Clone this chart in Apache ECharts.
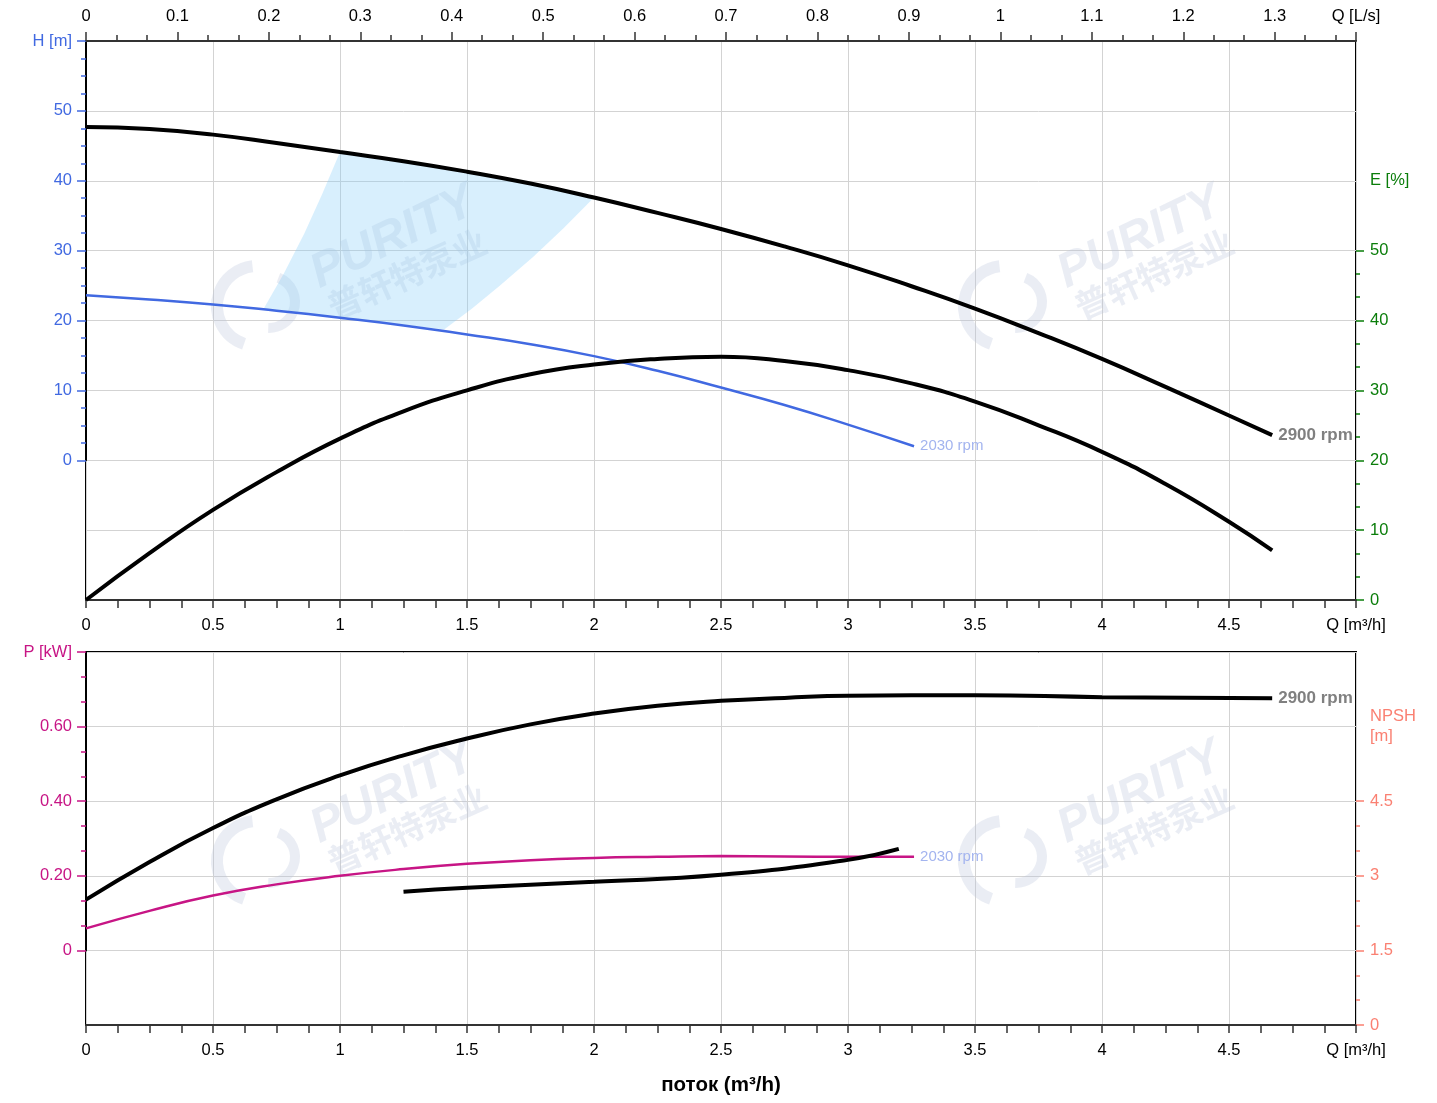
<!DOCTYPE html>
<html>
<head>
<meta charset="utf-8">
<script src="https://cdn.jsdelivr.net/npm/echarts@6/dist/echarts.min.js"></script>
<style>
html,body{margin:0;padding:0;background:#fff;}
#chart{width:1437px;height:1103px;}
</style>
</head>
<body>
<div id="chart"></div>
<script>
// ---- data ----
const Q_H2900 = [0, 0.25, 0.5, 0.75, 1.0, 1.25, 1.5, 1.75, 2.0, 2.25, 2.5, 2.75, 3.0, 3.25, 3.5, 3.75, 4.0, 4.25, 4.5, 4.67];
const H_2900  = [47.7, 47.4, 46.6, 45.4, 44.1, 42.8, 41.3, 39.6, 37.6, 35.4, 33.1, 30.6, 27.9, 24.9, 21.7, 18.2, 14.5, 10.5, 6.4, 3.6];
const Q_H2030 = [0, 0.25, 0.5, 0.75, 1.0, 1.25, 1.5, 1.75, 2.0, 2.25, 2.5, 2.75, 3.0, 3.26];
const H_2030  = [23.6, 23.0, 22.3, 21.4, 20.4, 19.3, 18.0, 16.6, 14.9, 12.8, 10.4, 7.9, 5.1, 2.0];
const Q_E     = [0, 0.25, 0.5, 0.75, 1.0, 1.25, 1.5, 1.75, 2.0, 2.25, 2.5, 2.75, 3.0, 3.25, 3.5, 3.75, 4.0, 4.25, 4.5, 4.67];
const E_2900  = [0, 6.7, 12.9, 18.3, 23.1, 27.0, 30.0, 32.3, 33.7, 34.5, 34.8, 34.2, 32.9, 31.0, 28.4, 25.0, 21.2, 16.6, 11.2, 7.1];
const Q_P2900 = [0, 0.25, 0.5, 0.75, 1.0, 1.25, 1.5, 1.75, 2.0, 2.25, 2.5, 2.75, 3.0, 3.5, 4.0, 4.67];
const P_2900  = [0.136, 0.237, 0.328, 0.405, 0.469, 0.523, 0.568, 0.606, 0.635, 0.656, 0.669, 0.677, 0.683, 0.684, 0.679, 0.676];
const Q_P2030 = [0, 0.25, 0.5, 0.75, 1.0, 1.25, 1.5, 1.75, 2.0, 2.25, 2.5, 2.75, 3.0, 3.26];
const P_2030  = [0.059, 0.106, 0.147, 0.177, 0.200, 0.218, 0.232, 0.242, 0.248, 0.251, 0.253, 0.252, 0.251, 0.251];
const Q_NPSH  = [1.25, 1.5, 2.0, 2.5, 3.0, 3.2];
const NPSH    = [2.68, 2.76, 2.88, 3.02, 3.32, 3.54];
// operating range (shaded area) outline
const AREA_Q = [0.70, 0.78, 0.86, 0.93, 1.0, 1.25, 1.5, 1.75, 2.0, 1.88, 1.76, 1.63, 1.52, 1.41, 1.2, 1.0, 0.85, 0.70];
const AREA_H = [21.7, 26.8, 32.5, 38.1, 44.1, 42.8, 41.3, 39.6, 37.6, 33.2, 29.1, 25.0, 21.7, 18.7, 19.6, 20.4, 21.0, 21.7];

const zip = (a, b) => a.map((v, i) => [v, b[i]]);
const FONT = 'Arial, "Liberation Sans", sans-serif';
const FS = 16.5;
const GRID_C = '#d3d3d3';
const C_H = '#4169E1', C_E = '#0a7d0a', C_P = '#C71585', C_N = '#FA8072';

const chart = echarts.init(document.getElementById('chart'), null, {renderer: 'canvas'});

// frame geometry
const L = 86, R = 81;
const T1 = 41, H1 = 559;     // top frame: H from -20 to 60
const T2 = 652, H2 = 373;    // bottom frame: P from -0.2 to 0.8
const u1 = H1 / 8;           // px per 10 m
const u2 = H2 / 5;           // px per 0.2 kW

function qLabel(v) {
  if (v >= 4.99) return 'Q [m³/h]';
  return String(Math.round(v * 10) / 10);
}
function frameX(grid, extra) {
  return Object.assign({
    type: 'value', gridIndex: grid, min: 0, max: 5, interval: 0.5, position: 'bottom',
    axisLine: {show: true, onZero: false, lineStyle: {color: '#333', width: 2}},
    axisTick: {show: true, length: 8, lineStyle: {color: '#333', width: 1.5}},
    minorTick: {show: true, splitNumber: 4, length: 8, lineStyle: {color: '#333', width: 1.5}},
    axisLabel: {color: '#000', fontSize: FS, fontFamily: FONT, margin: 17, formatter: qLabel},
    splitLine: {show: true, lineStyle: {color: GRID_C, width: 1}}
  }, extra || {});
}
function hiddenX(grid) {
  return {type: 'value', gridIndex: grid, min: 0, max: 5, show: false, axisLine: {onZero: false}, splitLine: {show: false}};
}
function hiddenY(grid) {
  return {type: 'value', gridIndex: grid, min: 0, max: 1, show: false, axisLine: {onZero: false}, splitLine: {show: false}};
}

const graphic = [];
function watermark(px, py) {
  const col = 'rgba(185,197,218,0.30)';
  graphic.push({type: 'arc', shape: {cx: px - 136, cy: py + 68, r: 40, startAngle: 1.9, endAngle: 4.6},
    style: {fill: 'none', stroke: col, lineWidth: 12}, z: 1, silent: true});
  graphic.push({type: 'arc', shape: {cx: px - 124, cy: py + 64, r: 26, startAngle: -1.2, endAngle: 1.6},
    style: {fill: 'none', stroke: col, lineWidth: 10}, z: 1, silent: true});
  graphic.push({type: 'text', x: px, y: py, rotation: 0.45, silent: true, z: 1,
    style: {text: 'PURITY', font: 'italic bold 48px ' + FONT, fill: col, align: 'center', verticalAlign: 'middle'}});
  graphic.push({type: 'text', x: px + 14, y: py + 36, rotation: 0.42, silent: true, z: 1,
    style: {text: '普轩特泵业', font: 'bold 34px "Noto Sans CJK SC"', fill: col, align: 'center', verticalAlign: 'middle'}});
}
watermark(393, 238);
watermark(1140, 238);
watermark(393, 793);
watermark(1140, 793);

const option = {
  backgroundColor: '#fff',
  animation: false,
  textStyle: {fontFamily: FONT},
  graphic: graphic,
  grid: [
    // 0: top frame
    {left: L, right: R, top: T1, height: H1, show: true, borderColor: '#000', borderWidth: 2, backgroundColor: 'rgba(0,0,0,0)'},
    // 1: H (0..60)
    {left: L, right: R, top: T1, height: u1 * 6},
    // 2: E (0..50)
    {left: L, right: R, top: T1 + u1 * 3, height: u1 * 5},
    // 3: bottom frame
    {left: L, right: R, top: T2, height: H2, show: true, borderColor: '#000', borderWidth: 2, backgroundColor: 'rgba(0,0,0,0)'},
    // 4: P (0..0.8)
    {left: L, right: R, top: T2, height: u2 * 4},
    // 5: NPSH (0..4.5)
    {left: L, right: R, top: T2 + u2 * 2, height: u2 * 3}
  ],
  xAxis: [
    frameX(0),
    {
      type: 'value', gridIndex: 0, min: 0, max: 5 / 3.6, interval: 0.1, position: 'top',
      axisLine: {show: true, onZero: false, lineStyle: {color: '#333', width: 2}},
      axisTick: {show: true, length: 9, lineStyle: {color: '#333', width: 1.5}},
      minorTick: {show: true, splitNumber: 3, length: 6, lineStyle: {color: '#333', width: 1.5}},
      axisLabel: {color: '#000', fontSize: FS, fontFamily: FONT, margin: 16,
        formatter: v => v > 1.35 ? 'Q [L/s]' : String(Math.round(v * 10) / 10)},
      splitLine: {show: false}
    },
    hiddenX(1),
    hiddenX(2),
    frameX(3, {name: 'поток (m³/h)', nameLocation: 'middle', nameGap: 50,
      nameTextStyle: {color: '#000', fontSize: 20.5, fontWeight: 'bold', fontFamily: FONT}}),
    hiddenX(4),
    hiddenX(5)
  ],
  yAxis: [
    hiddenY(0),
    {
      type: 'value', gridIndex: 1, position: 'left', min: 0, max: 60, interval: 10,
      axisLine: {show: true, onZero: false, lineStyle: {color: '#000', width: 2}},
      axisTick: {show: true, length: 9, lineStyle: {color: C_H, width: 1.5}},
      minorTick: {show: true, splitNumber: 4, length: 5, lineStyle: {color: C_H, width: 1.5}},
      axisLabel: {color: C_H, fontSize: FS, fontFamily: FONT, margin: 14,
        formatter: v => v >= 59 ? 'H [m]' : String(v)},
      splitLine: {show: true, lineStyle: {color: GRID_C, width: 1}}
    },
    {
      type: 'value', gridIndex: 2, position: 'right', min: 0, max: 50, interval: 10,
      name: 'E [%]', nameLocation: 'end', nameGap: u1,
      nameTextStyle: {color: C_E, fontSize: FS, fontFamily: FONT, align: 'left', verticalAlign: 'middle', padding: [0, 0, 0, 14]},
      axisLine: {show: false, onZero: false},
      axisTick: {show: true, length: 8, lineStyle: {color: C_E, width: 1.5}},
      minorTick: {show: true, splitNumber: 3, length: 4, lineStyle: {color: C_E, width: 1.5}},
      axisLabel: {color: C_E, fontSize: FS, fontFamily: FONT, margin: 14},
      splitLine: {show: true, lineStyle: {color: GRID_C, width: 1}}
    },
    hiddenY(3),
    {
      type: 'value', gridIndex: 4, position: 'left', min: 0, max: 0.8, interval: 0.2,
      axisLine: {show: true, onZero: false, lineStyle: {color: '#000', width: 2}},
      axisTick: {show: true, length: 9, lineStyle: {color: C_P, width: 1.5}},
      minorTick: {show: true, splitNumber: 3, length: 5, lineStyle: {color: C_P, width: 1.5}},
      axisLabel: {color: C_P, fontSize: FS, fontFamily: FONT, margin: 14,
        formatter: v => {
          const r = Math.round(v * 100) / 100;
          if (r >= 0.79) return 'P [kW]';
          if (r === 0) return '0';
          return r.toFixed(2);
        }},
      splitLine: {show: true, lineStyle: {color: GRID_C, width: 1}}
    },
    {
      type: 'value', gridIndex: 5, position: 'right', min: 0, max: 4.5, interval: 1.5,
      name: 'NPSH\n[m]', nameLocation: 'end', nameGap: u2,
      nameTextStyle: {color: C_N, fontSize: FS, fontFamily: FONT, align: 'left', verticalAlign: 'middle', lineHeight: 20, padding: [0, 0, 0, 14]},
      axisLine: {show: false, onZero: false},
      axisTick: {show: true, length: 8, lineStyle: {color: C_N, width: 1.5}},
      minorTick: {show: true, splitNumber: 3, length: 4, lineStyle: {color: C_N, width: 1.5}},
      axisLabel: {color: C_N, fontSize: FS, fontFamily: FONT, margin: 14},
      splitLine: {show: true, lineStyle: {color: GRID_C, width: 1}}
    }
  ],
  series: [
    {
      type: 'custom', name: 'range', xAxisIndex: 2, yAxisIndex: 1, z: 2, silent: true,
      data: [[AREA_Q[0], AREA_H[0]]],
      renderItem: function (params, api) {
        if (params.dataIndex !== 0) return null;
        const pts = AREA_Q.map((q, i) => api.coord([q, AREA_H[i]]));
        return {type: 'polygon', shape: {points: pts, smooth: 0}, style: {fill: 'rgba(135,206,250,0.32)', stroke: 'none'}};
      }
    },
    {
      type: 'line', name: 'H 2030', xAxisIndex: 2, yAxisIndex: 1, data: zip(Q_H2030, H_2030),
      smooth: true, symbol: 'none', z: 3, lineStyle: {color: C_H, width: 2.5},
      endLabel: {show: true, formatter: '2030 rpm', color: '#a3b4ef', fontSize: 15, fontFamily: FONT, distance: 6}
    },
    {
      type: 'line', name: 'H 2900', xAxisIndex: 2, yAxisIndex: 1, data: zip(Q_H2900, H_2900),
      smooth: true, symbol: 'none', z: 4, lineStyle: {color: '#000', width: 4},
      endLabel: {show: true, formatter: '2900 rpm', color: '#808080', fontSize: 17, fontWeight: 'bold', fontFamily: FONT, distance: 6}
    },
    {
      type: 'line', name: 'E 2900', xAxisIndex: 3, yAxisIndex: 2, data: zip(Q_E, E_2900),
      smooth: true, symbol: 'none', z: 4, clip: false, lineStyle: {color: '#000', width: 4}
    },
    {
      type: 'line', name: 'P 2030', xAxisIndex: 5, yAxisIndex: 4, data: zip(Q_P2030, P_2030),
      smooth: true, symbol: 'none', z: 3, lineStyle: {color: C_P, width: 2.5},
      endLabel: {show: true, formatter: '2030 rpm', color: '#a3b4ef', fontSize: 15, fontFamily: FONT, distance: 6}
    },
    {
      type: 'line', name: 'P 2900', xAxisIndex: 5, yAxisIndex: 4, data: zip(Q_P2900, P_2900),
      smooth: true, symbol: 'none', z: 4, lineStyle: {color: '#000', width: 4},
      endLabel: {show: true, formatter: '2900 rpm', color: '#808080', fontSize: 17, fontWeight: 'bold', fontFamily: FONT, distance: 6}
    },
    {
      type: 'line', name: 'NPSH 2900', xAxisIndex: 6, yAxisIndex: 5, data: zip(Q_NPSH, NPSH),
      smooth: true, symbol: 'none', z: 4, lineStyle: {color: '#000', width: 4}
    }
  ]
};
chart.setOption(option);
</script>
</body>
</html>
